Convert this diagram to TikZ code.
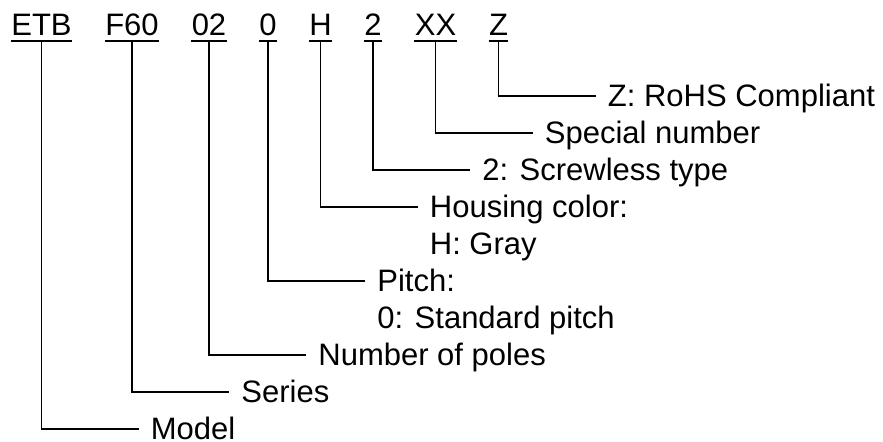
\documentclass[tikz,border=0pt]{standalone}
\usepackage{fontspec}
\setmainfont{Liberation Sans}
\usetikzlibrary{positioning}

\begin{document}
\begin{tikzpicture}[x=0.5pt,y=-0.5pt,
  code/.style={anchor=base,inner sep=0pt,font=\fontsize{15.5}{18}\selectfont},
  lbl/.style={inner sep=0pt,font=\fontsize{15.5}{18}\selectfont},
  lead/.style={line width=0.75pt},
  uline/.style={line width=1.1pt}]
\useasboundingbox (0,0) rectangle (883,442);
% part number
\node[code] (etb) at (41.5,36) {ETB};
\node[code] (f60) at (132,36) {F60};
\node[code] (poles) at (209,36) {02};
\node[code] (pitch) at (268,36) {0};
\node[code] (hcol) at (320.5,36) {H};
\node[code] (type) at (373,36) {2};
\node[code] (spec) at (435.5,36) {XX};
\node[code] (rohs) at (498.5,36) {Z};
\foreach \n in {etb,f60,poles,pitch,hcol,type,spec,rohs}
  \draw[uline] ([yshift=-2.5pt]\n.base west) -- ([yshift=-2.5pt]\n.base east);
% line ends
\coordinate (rohs-e) at (595.5,96);
\coordinate (spec-e) at (532.5,133);
\coordinate (type-e) at (470,170);
\coordinate (hcol-e) at (417.5,207);
\coordinate (pitch-e) at (365,281);
\coordinate (poles-e) at (306,355);
\coordinate (f60-e) at (229,392);
\coordinate (etb-e) at (138.5,429);
% texts
\node[lbl,base right=6pt of rohs-e,yshift=-5.5pt] (rohs-t) {Z: RoHS Compliant};
\node[lbl,base right=6pt of spec-e,yshift=-5.5pt] (spec-t) {Special number};
\node[lbl,base right=6pt of type-e,yshift=-5.5pt] (type-t) {2: Screwless type};
\node[lbl,base right=6pt of hcol-e,yshift=-5.5pt] (hcol-t) {Housing color:};
\node[lbl,anchor=base west] (hcol-t2) at ([yshift=-18.5pt]hcol-t.base west) {H: Gray};
\node[lbl,base right=6pt of pitch-e,yshift=-5.5pt] (pitch-t) {Pitch:};
\node[lbl,anchor=base west] (pitch-t2) at ([yshift=-18.5pt]pitch-t.base west) {0: Standard pitch};
\node[lbl,base right=6pt of poles-e,yshift=-5.5pt] (poles-t) {Number of poles};
\node[lbl,base right=6pt of f60-e,yshift=-5.5pt] (f60-t) {Series};
\node[lbl,base right=6pt of etb-e,yshift=-5.5pt] (etb-t) {Model};
% leads
\draw[lead] ([yshift=-3pt]rohs.base) |- (rohs-e);
\draw[lead] ([yshift=-3pt]spec.base) |- (spec-e);
\draw[lead] ([yshift=-3pt]type.base) |- (type-e);
\draw[lead] ([yshift=-3pt]hcol.base) |- (hcol-e);
\draw[lead] ([yshift=-3pt]pitch.base) |- (pitch-e);
\draw[lead] ([yshift=-3pt]poles.base) |- (poles-e);
\draw[lead] ([yshift=-3pt]f60.base) |- (f60-e);
\draw[lead] ([yshift=-3pt]etb.base) |- (etb-e);
\end{tikzpicture}
\end{document}
